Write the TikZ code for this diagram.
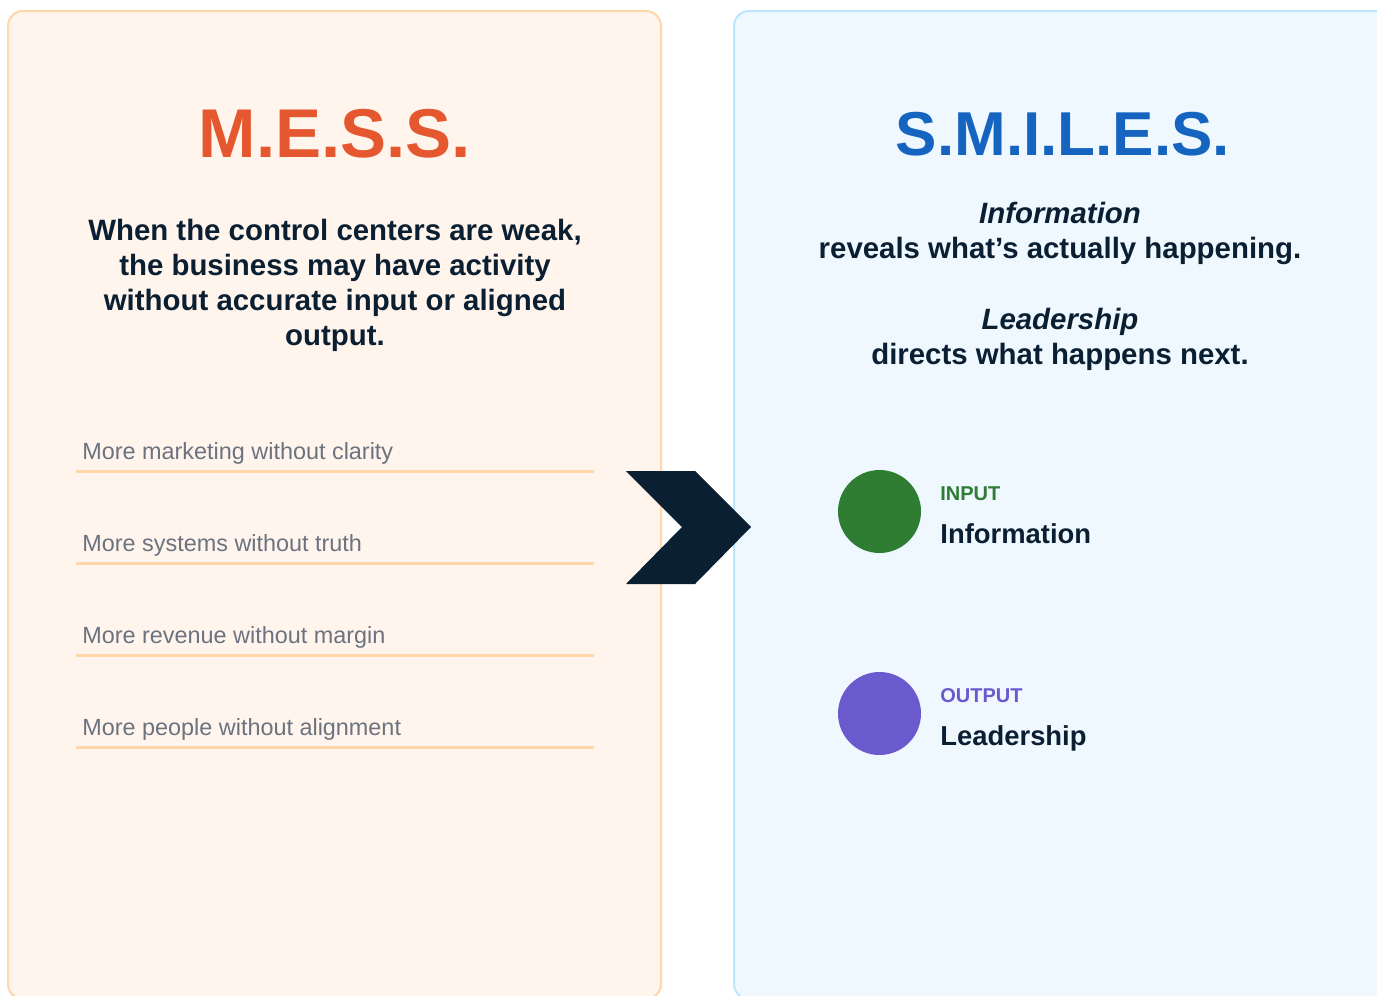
\documentclass[tikz,border=0pt]{standalone}
\usepackage{fontspec}
\setmainfont{Liberation Sans}
\definecolor{navy}{HTML}{0B1F33}
\definecolor{messred}{HTML}{E5572F}
\definecolor{messbg}{HTML}{FFF5EC}
\definecolor{messline}{HTML}{FED7AA}
\definecolor{smileblue}{HTML}{1565C0}
\definecolor{smilebg}{HTML}{F0F8FF}
\definecolor{smileline}{HTML}{BAE6FD}
\definecolor{itemgray}{HTML}{6B7280}
\definecolor{ingreen}{HTML}{2E7D32}
\definecolor{outpurple}{HTML}{6A5ACD}
\tikzset{
  panel/.style={rounded corners=7.5pt,line width=1pt},
  headline/.style={inner sep=0,anchor=base,font=\bfseries\fontsize{34.5}{40}\selectfont},
  blurb/.style={inner sep=0,anchor=base,align=center,text=navy,
    font=\bfseries\fontsize{14.7}{17.5}\selectfont},
  item/.style={inner sep=0,anchor=base west,text=itemgray,font=\fontsize{11.7}{14}\selectfont},
  rule/.style={messline,line width=1.5pt},
  dot/.style={circle,minimum size=41.5pt,inner sep=0},
  tag/.style={inner sep=0,anchor=base west,font=\bfseries\fontsize{10}{12}\selectfont},
  tagname/.style={inner sep=0,anchor=base west,text=navy,font=\bfseries\fontsize{13.7}{16}\selectfont}
}
\begin{document}
\begin{tikzpicture}[x=0.5pt,y=-0.5pt]
  \useasboundingbox (0,0) rectangle (1377,996);
  \begin{scope}
    \clip (0,0) rectangle (1377,996);
    \draw[panel,draw=messline,fill=messbg] (8,11) rectangle (661,999);
    \draw[panel,draw=smileline,fill=smilebg] (734,11) rectangle (1420,999);
  \end{scope}

  % left column (blurbs sit on the baseline of their last line)
  \node[headline,text=messred] (mess) at (335,157) {M.E.S.S.};
  \node[blurb] (weak) at (335,345) {When the control centers are weak,\\
    the business may have activity\\without accurate input or aligned\\output.};
  \foreach \txt [count=\i] in {More marketing without clarity,More systems without truth,
      More revenue without margin,More people without alignment} {
    \node[item] (item\i) at (82,367+92*\i) {\txt};
    \draw[rule] (76,379+92*\i) -- (594,379+92*\i);
  }

  % chevron between the columns
  \fill[navy] (626,471) -- (695,471) -- (751,527) -- (695,584) -- (626,584) -- (682,527) -- cycle;

  % right column
  \node[headline,text=smileblue,font=\bfseries\fontsize{31}{36}\selectfont] (smiles) at (1063,155) {S.M.I.L.E.S.};
  \node[blurb] (info) at (1060,258) {\itshape Information\\reveals what’s actually happening.};
  \node[blurb] (lead) at (1060,364) {\itshape Leadership\\directs what happens next.};

  \node[dot,fill=ingreen] (indot) at (879.5,511.5) {};
  \node[tag,text=ingreen] (intag) at (940,500) {INPUT};
  \node[tagname] (inname) at (940,543) {Information};

  \node[dot,fill=outpurple] (outdot) at (879.5,713.5) {};
  \node[tag,text=outpurple] (outtag) at (940,702) {OUTPUT};
  \node[tagname] (outname) at (940,745) {Leadership};
\end{tikzpicture}
\end{document}
